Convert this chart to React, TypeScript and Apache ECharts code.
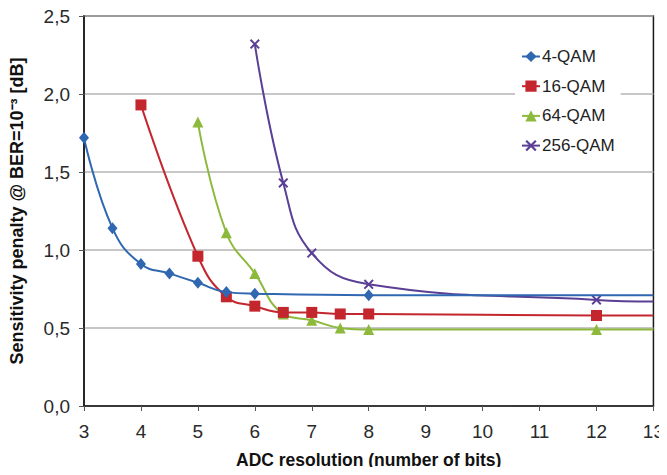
import React, { useEffect, useRef } from "react";
import * as echarts from "echarts";

const seriesNames = ["4-QAM", "16-QAM", "64-QAM", "256-QAM"];
const qam4: [number, number][] = [[3, 1.72], [3.5, 1.14], [4, 0.91], [4.5, 0.85], [5, 0.79], [5.5, 0.73], [6, 0.72], [8, 0.71]];
const qam16: [number, number][] = [[4, 1.93], [5, 0.96], [5.5, 0.70], [6, 0.64], [6.5, 0.60], [7, 0.60], [7.5, 0.59], [8, 0.59], [12, 0.58]];
const qam64: [number, number][] = [[5, 1.82], [5.5, 1.11], [6, 0.85], [6.5, 0.59], [7, 0.55], [7.5, 0.50], [8, 0.49], [12, 0.49]];
const qam256: [number, number][] = [[6, 2.32], [6.5, 1.43], [7, 0.98], [8, 0.78], [12, 0.68]];
// line continuation to right edge (no marker)
const tailValues = [0.71, 0.58, 0.49, 0.67];
const xMin = 3, xMax = 13, yMin = 0, yMax = 2.5;

const colors = ["#2F67B1", "#C4262E", "#8DBA3C", "#5B3F95"];
const xPath = "path://M0,1.4L1.4,0L5,3.6L8.6,0L10,1.4L6.4,5L10,8.6L8.6,10L5,6.4L1.4,10L0,8.6L3.6,5Z";
const symbols = ["diamond", "rect", "triangle", xPath];
const symbolSizes: any[] = [[10, 12], 11, 11, 10];

const FONT = "'Liberation Sans', Arial, sans-serif";

export default function App() {
  const ref = useRef<HTMLDivElement>(null);
  useEffect(() => {
    const chart = echarts.init(ref.current!, null, { renderer: "svg" });
    const all = [qam4, qam16, qam64, qam256];
    const series = all.map((d, i) => ({
      name: seriesNames[i],
      type: "line",
      smooth: 0.45,
      symbol: symbols[i],
      symbolSize: symbolSizes[i],
      showAllSymbol: true,
      clip: true,
      data: [
        ...d.map((p) => ({ value: p })),
        { value: [xMax, tailValues[i]], symbol: "none" },
      ],
      lineStyle: { color: colors[i], width: 2 },
      itemStyle: { color: colors[i] },
      emphasis: { disabled: true },
      z: 10 - i,
    }));
    chart.setOption({
      animation: false,
      backgroundColor: "#ffffff",
      textStyle: { fontFamily: FONT },
      grid: {
        left: 84,
        right: 10,
        top: 16,
        bottom: 69,
        show: true,
        borderColor: "#1a1a1a",
        borderWidth: 1.5,
        backgroundColor: "#ffffff",
      },
      legend: {
        data: seriesNames,
        orient: "vertical",
        left: 515,
        top: 43,
        backgroundColor: "#ffffff",
        padding: [5, 6, 5, 6],
        itemWidth: 18,
        itemHeight: 14,
        itemGap: 12.7,
        textStyle: { fontSize: 17, color: "#222", fontFamily: FONT, padding: [0, 0, 0, -3] },
      },
      xAxis: {
        type: "value",
        min: xMin,
        max: xMax,
        interval: 1,
        name: "ADC resolution (number of bits)",
        nameLocation: "middle",
        nameGap: 45,
        nameTextStyle: { fontSize: 17.5, fontWeight: "bold", color: "#111", fontFamily: FONT },
        axisLine: { show: true, lineStyle: { color: "#1a1a1a", width: 1.5 } },
        axisTick: { show: true, inside: false, length: 5, lineStyle: { color: "#555" } },
        axisLabel: { fontSize: 19, color: "#2a2a2a", margin: 16 },
        splitLine: { show: false },
      },
      yAxis: {
        type: "value",
        min: yMin,
        max: yMax,
        interval: 0.5,
        name: "Sensitivity penalty @ BER=10⁻³ [dB]",
        nameLocation: "middle",
        nameGap: 58,
        nameTextStyle: { fontSize: 18, fontWeight: "bold", color: "#111", fontFamily: FONT },
        axisLine: { show: true, lineStyle: { color: "#1a1a1a", width: 1.5 } },
        axisTick: { show: true, inside: false, length: 5, lineStyle: { color: "#555" } },
        axisLabel: {
          fontSize: 19,
          color: "#2a2a2a",
          margin: 14,
          formatter: (v: number) => v.toFixed(1).replace(".", ","),
        },
        splitLine: { show: true, lineStyle: { color: "#b5b5b5", width: 1.5 } },
      },
      series,
    });
    return () => chart.dispose();
  }, []);
  return <div ref={ref} style={{ width: 667, height: 475, margin: -8 }} />;
}
